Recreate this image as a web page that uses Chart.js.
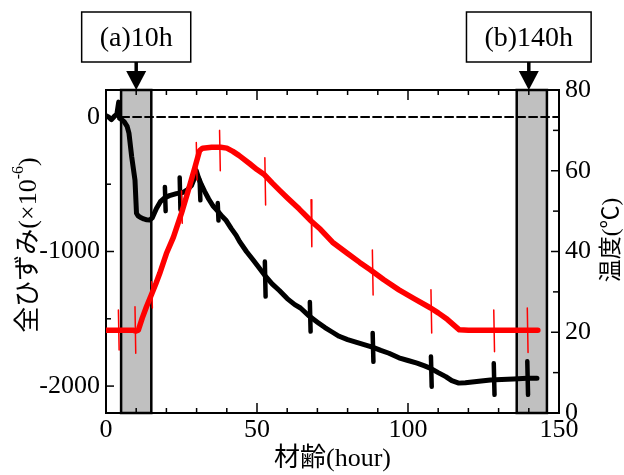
<!DOCTYPE html>
<html>
<head>
<meta charset="utf-8">
<title>全ひずみと温度の経時変化</title>
<script src="https://cdn.jsdelivr.net/npm/chart.js"></script>
<style>
  html, body { margin: 0; padding: 0; background: #fff; }
</style>
</head>
<body>
<canvas id="chart" width="624" height="475"></canvas>
<script>
// 全ひずみ (×10^-6) の測定値
const strainHours = [0, 0.8, 1.8, 2.8, 3.6, 4.2, 4.5, 4.9, 6.0, 7.0, 7.6, 8.5, 9.6, 10.1, 10.6, 11.3, 12.5, 13.5, 14.5,
  15.3, 16.7, 18.0, 19.5, 21.0, 23.3, 25.6, 27.0, 28.3, 29.2, 29.9, 30.6, 31.5, 32.7, 34.0, 35.4, 37.0, 38.5, 39.8,
  41.5, 43.1, 44.2, 46.5, 48.6, 50.5, 52.5, 55.0, 57.4, 60.0, 62.5, 64.4, 67.3, 70.0, 72.5, 75.0, 77.2, 80.0, 83.0,
  86.0, 88.2, 91.0, 93.7, 97.0, 100.0, 103.0, 105.5, 107.5, 110.0, 112.5, 114.5, 116.8, 119.0, 122.0, 125.0, 127.3,
  131.0, 135.0, 139.4, 142.7];
const strainValues = [10, 0, -20, 5, 20, 110, -10, -15, -35, -70, -120, -295, -470, -716, -735, -745, -758, -765, -766,
  -750, -680, -630, -600, -585, -570, -560, -540, -510, -460, -400, -450, -500, -555, -610, -660, -700, -740, -770,
  -830, -880, -925, -1000, -1060, -1115, -1175, -1240, -1290, -1350, -1395, -1420, -1480, -1525, -1565, -1600, -1630,
  -1655, -1675, -1695, -1710, -1735, -1756, -1790, -1810, -1830, -1850, -1868, -1900, -1930, -1960, -1978, -1975,
  -1968, -1960, -1955, -1952, -1948, -1942, -1942];

// 温度 (℃) の測定値
const tempHours = [0, 3.8, 4.4, 9.0, 10.0, 10.7, 12.0, 13.4, 15.1, 16.5, 17.8, 20.0, 22.3, 25.0, 27.0, 29.5, 31.0, 32.0,
  35.0, 38.0, 40.0, 42.0, 44.0, 47.5, 50.0, 52.5, 55.0, 57.4, 60.0, 64.0, 68.0, 71.0, 75.0, 80.0, 84.0, 87.5, 92.0,
  97.0, 102.0, 107.5, 110.0, 113.0, 117.0, 120.0, 130.0, 140.0, 143.0];
const tempValues = [20.5, 20.5, 20.5, 20.5, 20.3, 20.5, 23.5, 26.3, 29.4, 32.0, 34.6, 39.5, 43.5, 49.5, 54.5, 61.0, 65.0,
  65.6, 65.8, 65.8, 65.6, 64.8, 63.8, 61.8, 60.3, 59.0, 57.0, 55.2, 53.3, 50.5, 47.5, 45.5, 42.3, 39.5, 37.3, 35.5,
  33.0, 30.5, 28.3, 26.0, 24.8, 23.2, 20.6, 20.5, 20.5, 20.5, 20.5];

// 計測時の読み飛び (時刻, 上端, 下端)
const strainSpikeHours = [19.5, 24.4, 31.0, 37.0, 52.6, 67.5, 88.3, 107.6, 128.4, 139.5];
const strainSpikeHigh = [-520, -450, -470, -640, -1075, -1375, -1605, -1780, -1830, -1815];
const strainSpikeLow = [-700, -690, -620, -770, -1335, -1595, -1820, -2005, -2065, -2065];
const tempSpikeHours = [4.1, 9.6, 15.1, 25.0, 29.9, 37.6, 52.6, 67.9, 88.2, 107.6, 128.4, 139.5];
const tempSpikeHigh = [25.5, 26.3, 32.5, 55.0, 67.0, 70.0, 63.2, 52.8, 40.4, 30.5, 25.5, 26.0];
const tempSpikeLow = [15.6, 14.8, 26.0, 47.0, 57.7, 60.0, 51.5, 41.2, 29.2, 19.8, 15.2, 15.0];

// ひずみ 0 の基準線
const zeroLineHours = [5, 150];

// 観察時刻と網掛け範囲
const markLabels = ['(a)10h', '(b)140h'];
const markHours = [10, 140];
const bandStart = [5, 136];
const bandEnd = [15, 146];

// 目盛
const hourTicks = [0, 50, 100, 150];
const hourMinorTicks = [10, 20, 30, 40, 60, 70, 80, 90, 110, 120, 130, 140];
const strainTicks = [-2000, -1000, 0];
const strainMinorTicks = [-1500, -500];
const tempTicks = [0, 20, 40, 60, 80];
const tempMinorTicks = [10, 30, 50, 70];

const SERIF = "'Liberation Serif', 'Noto Sans CJK JP', serif";
Chart.defaults.font.family = SERIF;
Chart.defaults.color = '#000';

const pts = (xs, ys) => xs.map((h, i) => ({ x: h, y: ys[i] }));
const spikes = (hs, hi, lo) => hs.flatMap((h, i) => [
  { x: h, y: hi[i] }, { x: h + 0.25, y: lo[i] }, { x: h + 0.3, y: null }
]);

// 網掛け・内向き目盛・注記
const decor = {
  id: 'decor',
  beforeDatasetsDraw(chart) {
    const { ctx, chartArea: a, scales: { x } } = chart;
    ctx.save();
    ctx.fillStyle = '#c0c0c0';
    ctx.strokeStyle = '#000';
    ctx.lineWidth = 2.5;
    bandStart.forEach((s, i) => {
      const l = x.getPixelForValue(s), r = x.getPixelForValue(bandEnd[i]);
      ctx.fillRect(l, a.top, r - l, a.bottom - a.top);
      ctx.strokeRect(l, a.top, r - l, a.bottom - a.top);
    });
    ctx.restore();
  },
  afterDatasetsDraw(chart) {
    const { ctx, chartArea: a, scales: { x, y, y2 } } = chart;
    ctx.save();
    ctx.strokeStyle = '#000';
    ctx.lineWidth = 1.5;
    const line = (x1, y1, x2, y2_) => { ctx.beginPath(); ctx.moveTo(x1, y1); ctx.lineTo(x2, y2_); ctx.stroke(); };
    const xt = (vals, len) => vals.forEach(v => {
      const px = x.getPixelForValue(v);
      line(px, a.bottom, px, a.bottom - len);
      line(px, a.top, px, a.top + len);
    });
    xt(hourTicks, 10);
    xt(hourMinorTicks, 5);
    strainTicks.forEach(v => { const py = y.getPixelForValue(v); line(a.left, py, a.left + 8, py); });
    strainMinorTicks.forEach(v => { const py = y.getPixelForValue(v); line(a.left, py, a.left + 5, py); });
    tempTicks.forEach(v => { const py = y2.getPixelForValue(v); line(a.right, py, a.right - 8, py); });
    tempMinorTicks.forEach(v => { const py = y2.getPixelForValue(v); line(a.right, py, a.right - 6, py); });
    ctx.restore();
  },
  afterDraw(chart) {
    const { ctx, chartArea: a, scales: { x } } = chart;
    ctx.save();
    // 観察時刻の枠と矢印
    ctx.font = '28px ' + SERIF;
    ctx.textAlign = 'center';
    ctx.textBaseline = 'middle';
    markHours.forEach((h, i) => {
      const cx = x.getPixelForValue(h);
      const w = ctx.measureText(markLabels[i]).width + 36;
      ctx.fillStyle = '#fff';
      ctx.fillRect(cx - w / 2, 12, w, 50);
      ctx.strokeStyle = '#000';
      ctx.lineWidth = 1.5;
      ctx.strokeRect(cx - w / 2, 12, w, 50);
      ctx.fillStyle = '#000';
      ctx.fillText(markLabels[i], cx, 39);
      ctx.lineWidth = 3.5;
      ctx.beginPath(); ctx.moveTo(cx, 62); ctx.lineTo(cx, 72); ctx.stroke();
      ctx.beginPath();
      ctx.moveTo(cx - 10, 71); ctx.lineTo(cx + 10, 71); ctx.lineTo(cx, a.top);
      ctx.closePath(); ctx.fill();
    });

    // 左軸タイトル (上付き指数つき)
    ctx.save();
    ctx.translate(29, 245);
    ctx.rotate(-Math.PI / 2);
    ctx.textAlign = 'left';
    const big = '26px ' + SERIF, small = '16px ' + SERIF;
    const parts = [['全ひずみ(×10', big, 0], ['-6', small, -10], [')', big, 0]];
    let total = 0;
    parts.forEach(p => { ctx.font = p[1]; total += ctx.measureText(p[0]).width; });
    let px = -total / 2;
    parts.forEach(p => {
      ctx.font = p[1];
      ctx.fillText(p[0], px, p[2]);
      px += ctx.measureText(p[0]).width;
    });
    ctx.restore();

    // 右軸タイトル
    ctx.save();
    ctx.translate(612, 240);
    ctx.rotate(-Math.PI / 2);
    ctx.font = '23px ' + SERIF;
    ctx.textAlign = 'center';
    ctx.fillText('温度(℃)', 0, 0);
    ctx.restore();
    ctx.restore();
  }
};

const tickFont = { size: 26 };
const setTicks = vals => s => { s.ticks = vals.map(v => ({ value: v })); };
const plain = v => String(v);

new Chart(document.getElementById('chart'), {
  type: 'line',
  data: {
    datasets: [
      {
        label: '温度',
        data: pts(tempHours, tempValues),
        yAxisID: 'y2',
        borderColor: '#ff0000',
        borderWidth: 5.5,
        order: 1
      },
      {
        label: '温度 読み飛び',
        data: spikes(tempSpikeHours, tempSpikeHigh, tempSpikeLow),
        yAxisID: 'y2',
        borderColor: '#ff0000',
        borderWidth: 1.5,
        spanGaps: false,
        order: 0
      },
      {
        label: '全ひずみ',
        data: pts(strainHours, strainValues),
        yAxisID: 'y',
        borderColor: '#000',
        borderWidth: 5,
        order: 3
      },
      {
        label: '全ひずみ 読み飛び',
        data: spikes(strainSpikeHours, strainSpikeHigh, strainSpikeLow),
        yAxisID: 'y',
        borderColor: '#000',
        borderWidth: 4.5,
        spanGaps: false,
        order: 2
      },
      {
        label: '基準線',
        data: zeroLineHours.map(h => ({ x: h, y: 0 })),
        yAxisID: 'y',
        borderColor: '#000',
        borderWidth: 2,
        borderDash: [8, 4],
        order: 4
      }
    ]
  },
  options: {
    responsive: false,
    animation: false,
    devicePixelRatio: 1,
    layout: { padding: { top: 88, left: 0, right: 0, bottom: 0 } },
    elements: { point: { radius: 0 }, line: { tension: 0, borderJoinStyle: 'round', borderCapStyle: 'round' } },
    plugins: { legend: { display: false }, tooltip: { enabled: false } },
    scales: {
      x: {
        type: 'linear', position: 'bottom', min: 0, max: 150,
        afterBuildTicks: setTicks(hourTicks),
        afterFit: s => { s.height = 62; },
        grid: { display: false, drawTicks: false },
        border: { display: true, color: '#000', width: 2 },
        ticks: { font: tickFont, padding: 2, maxRotation: 0, callback: plain },
        title: { display: true, text: '材齢(hour)', font: { size: 26 }, padding: { top: 0, bottom: 0 } }
      },
      x2: {
        type: 'linear', position: 'top', min: 0, max: 150,
        afterFit: s => { s.height = 2; },
        grid: { display: false, drawTicks: false },
        border: { display: true, color: '#000', width: 2 },
        ticks: { display: false }
      },
      y: {
        type: 'linear', position: 'left', min: -2200, max: 200,
        afterBuildTicks: setTicks(strainTicks),
        afterFit: s => { s.width = 106; },
        grid: { display: false, drawTicks: false },
        border: { display: true, color: '#000', width: 2 },
        ticks: { font: tickFont, padding: 6, callback: plain }
      },
      y2: {
        type: 'linear', position: 'right', min: 0, max: 80,
        afterBuildTicks: setTicks(tempTicks),
        afterFit: s => { s.width = 65; },
        grid: { display: false, drawTicks: false },
        border: { display: true, color: '#000', width: 2 },
        ticks: { font: tickFont, padding: 6, callback: plain }
      }
    }
  },
  plugins: [decor]
});
</script>
</body>
</html>
